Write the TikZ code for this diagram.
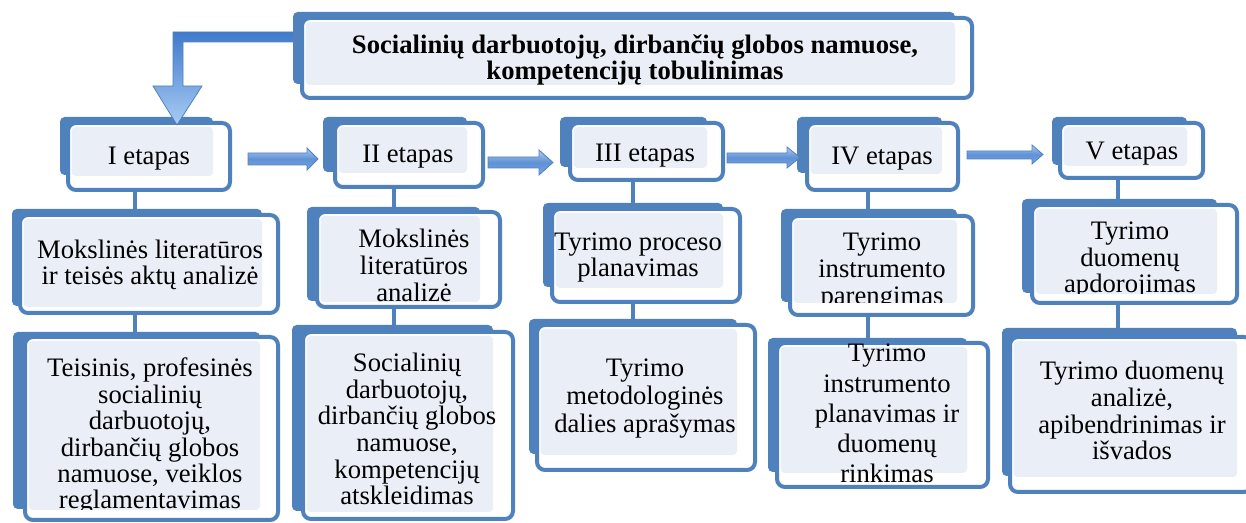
\documentclass[tikz,border=0pt]{standalone}
\usepackage{fontspec}
\setmainfont{Liberation Serif}
\usetikzlibrary{fit,backgrounds}
\definecolor{bblue}{HTML}{4F81BD}
\definecolor{lfill}{HTML}{EAEFF7}
\definecolor{arrL}{HTML}{B0CCF0}
\definecolor{arrM}{HTML}{5F91D6}
\definecolor{arrB}{HTML}{7BA5E0}
\definecolor{bigT}{HTML}{3F7BCB}
\definecolor{bigB}{HTML}{A9CBF5}
\tikzset{
 backA/.style={fill=bblue, rounded corners=3.5pt},
 frame/.style={draw=bblue, fill=white, line width=3pt, rounded corners=6pt, inner sep=0pt},
 lightfill/.style={fill=lfill, rounded corners=3pt},
 txt/.style={font=\fontsize{20}{20}\selectfont, align=center, inner sep=0pt, anchor=base},
 toptxt/.style={txt, font=\bfseries\fontsize{20}{19.5}\selectfont},
 conn/.style={draw=bblue, line width=3.6pt},
 blockarrow/.style={draw=bblue, line width=0.6pt, top color=arrL, bottom color=arrB, middle color=arrM},
 bigarrow/.style={draw=bblue, line width=0.6pt, top color=bigT, bottom color=bigB},
}
\newcommand\stagebox[9]{%
  \fill[backA] (#2,#3) rectangle (#4,#5);
  \node[frame, fit={(#6,#7) (#8,#9)}] (#1) {};
  \coordinate (#1-lt) at ({#6+3.5},{#7+4});
  \coordinate (#1-rb) at (#4,{#5+1});
  \fill[lightfill] (#1-lt) rectangle (#1-rb);
}
\begin{document}
\begin{tikzpicture}[x=0.75pt, y=-0.75pt]
\useasboundingbox (0,0) rectangle (1246,523);

% ---- top row (stages)
\stagebox{s1}{60}{117}{213}{175}{68}{123}{230}{190}
\node[txt] (t1) at (149,165) {I etapas};
\stagebox{s2}{323}{117}{467}{172}{335}{123}{483}{187}
\node[txt] (t2) at (408,163) {II etapas};
\stagebox{s3}{560}{117}{707}{167}{570}{123}{723}{180}
\node[txt] (t3) at (645,162) {III etapas};
\stagebox{s4}{797}{117}{942}{173}{807}{123}{958}{190}
\node[txt] (t4) at (882,165) {IV etapas};
\stagebox{s5}{1052}{117}{1187}{165}{1060}{123}{1203}{178}
\node[txt] (t5) at (1132,160) {V etapas};

% ---- big arrow from title to stage I
\path[bigarrow] (310,32) -- (173,32) -- (173,86) -- (153,86) -- (177,125)
  -- (202,86) -- (183,86) -- (183,42) -- (310,42) -- cycle;

% ---- title
\stagebox{top}{293}{12}{955}{84}{302}{18}{972}{98}
\node[toptxt] (ttop) at (635,80) {Socialinių darbuotojų, dirbančių globos namuose,\\kompetencijų tobulinimas};

% ---- block arrows between stages
\path[blockarrow] (248,153) -- (307,153) -- (307,148) -- (318,159) -- (307,170) -- (307,165) -- (248,165) -- cycle;
\path[blockarrow] (488,157) -- (539,157) -- (539,150) -- (553,162.5) -- (539,175) -- (539,168) -- (488,168) -- cycle;
\path[blockarrow] (727,153) -- (787,153) -- (787,147) -- (800,157.5) -- (787,168) -- (787,163) -- (727,163) -- cycle;
\path[blockarrow] (967,151) -- (1032,151) -- (1032,145) -- (1043,154.5) -- (1032,164) -- (1032,159) -- (967,159) -- cycle;

% ---- second row
\stagebox{m1}{12}{209}{262}{306}{20}{215}{278}{313}
\node[txt] (u1) at (150,285) {Mokslinės literatūros\\ir teisės aktų analizė};
\stagebox{m2}{307}{207}{480}{301}{317}{212}{500}{307}
\begin{scope}
\clip (m2-lt) rectangle (m2-rb);
\node[txt, font=\fontsize{20}{20.6}\selectfont] (u2) at (414,302) {Mokslinės\\literatūros\\analizė};
\end{scope}
\stagebox{m3}{543}{203}{723}{287}{552}{209}{740}{302}
\node[txt] (u3) at (638,277) {Tyrimo proceso\\planavimas};
\stagebox{m4}{781}{209}{957}{302}{790}{216}{973}{315}
\begin{scope}
\clip (m4-lt) rectangle (m4-rb);
\node[txt, font=\fontsize{20}{20.6}\selectfont] (u4) at (882,305) {Tyrimo\\instrumento\\parengimas};
\end{scope}
\stagebox{m5}{1022}{199}{1217}{293}{1032}{205}{1237}{303}
\begin{scope}
\clip (m5-lt) rectangle (m5-rb);
\node[txt] (u5) at (1130,293) {Tyrimo\\duomenų\\apdorojimas};
\end{scope}

% ---- third row
\stagebox{b1}{13}{332}{260}{509}{25}{337}{278}{520}
\begin{scope}
\clip (b1-lt) rectangle (b1-rb);
\node[txt, font=\fontsize{20}{19.8}\selectfont] (v1) at (150,509) {Teisinis, profesinės\\socialinių\\darbuotojų,\\dirbančių globos\\namuose, veiklos\\reglamentavimas};
\end{scope}
\stagebox{b2}{292}{325}{493}{511}{303}{332}{513}{519}
\node[txt] (v2) at (407,505) {Socialinių\\darbuotojų,\\dirbančių globos\\namuose,\\kompetencijų\\atskleidimas};
\stagebox{b3}{529}{319}{737}{454}{537}{325}{755}{470}
\node[txt, font=\fontsize{20}{21}\selectfont] (v3) at (645,433) {Tyrimo\\metodologinės\\dalies aprašymas};
\stagebox{b4}{768}{338}{967}{472}{777}{343}{988}{487}
\node[txt, font=\fontsize{20}{22.7}\selectfont] (v4) at (887,483) {Tyrimo\\instrumento\\planavimas ir\\duomenų\\rinkimas};
\stagebox{b5}{1002}{328}{1237}{476}{1010}{337}{1252}{492}
\node[txt] (v5) at (1132,460) {Tyrimo duomenų\\analizė,\\apibendrinimas ir\\išvados};

% ---- vertical connectors (behind boxes)
\coordinate (x1) at (135,0);
\coordinate (x2) at (394,0);
\coordinate (x3) at (633,0);
\coordinate (x4) at (868,0);
\coordinate (x5) at (1118,0);
\begin{scope}[on background layer]
\draw[conn] (s1.south -| x1) -- (m1.north -| x1);
\draw[conn] (m1.south -| x1) -- (b1.north -| x1);
\draw[conn] (s2.south -| x2) -- (m2.north -| x2);
\draw[conn] (m2.south -| x2) -- (b2.north -| x2);
\draw[conn] (s3.south -| x3) -- (m3.north -| x3);
\draw[conn] (m3.south -| x3) -- (b3.north -| x3);
\draw[conn] (s4.south -| x4) -- (m4.north -| x4);
\draw[conn] (m4.south -| x4) -- (b4.north -| x4);
\draw[conn] (s5.south -| x5) -- (m5.north -| x5);
\draw[conn] (m5.south -| x5) -- (b5.north -| x5);
\end{scope}
\end{tikzpicture}
\end{document}
